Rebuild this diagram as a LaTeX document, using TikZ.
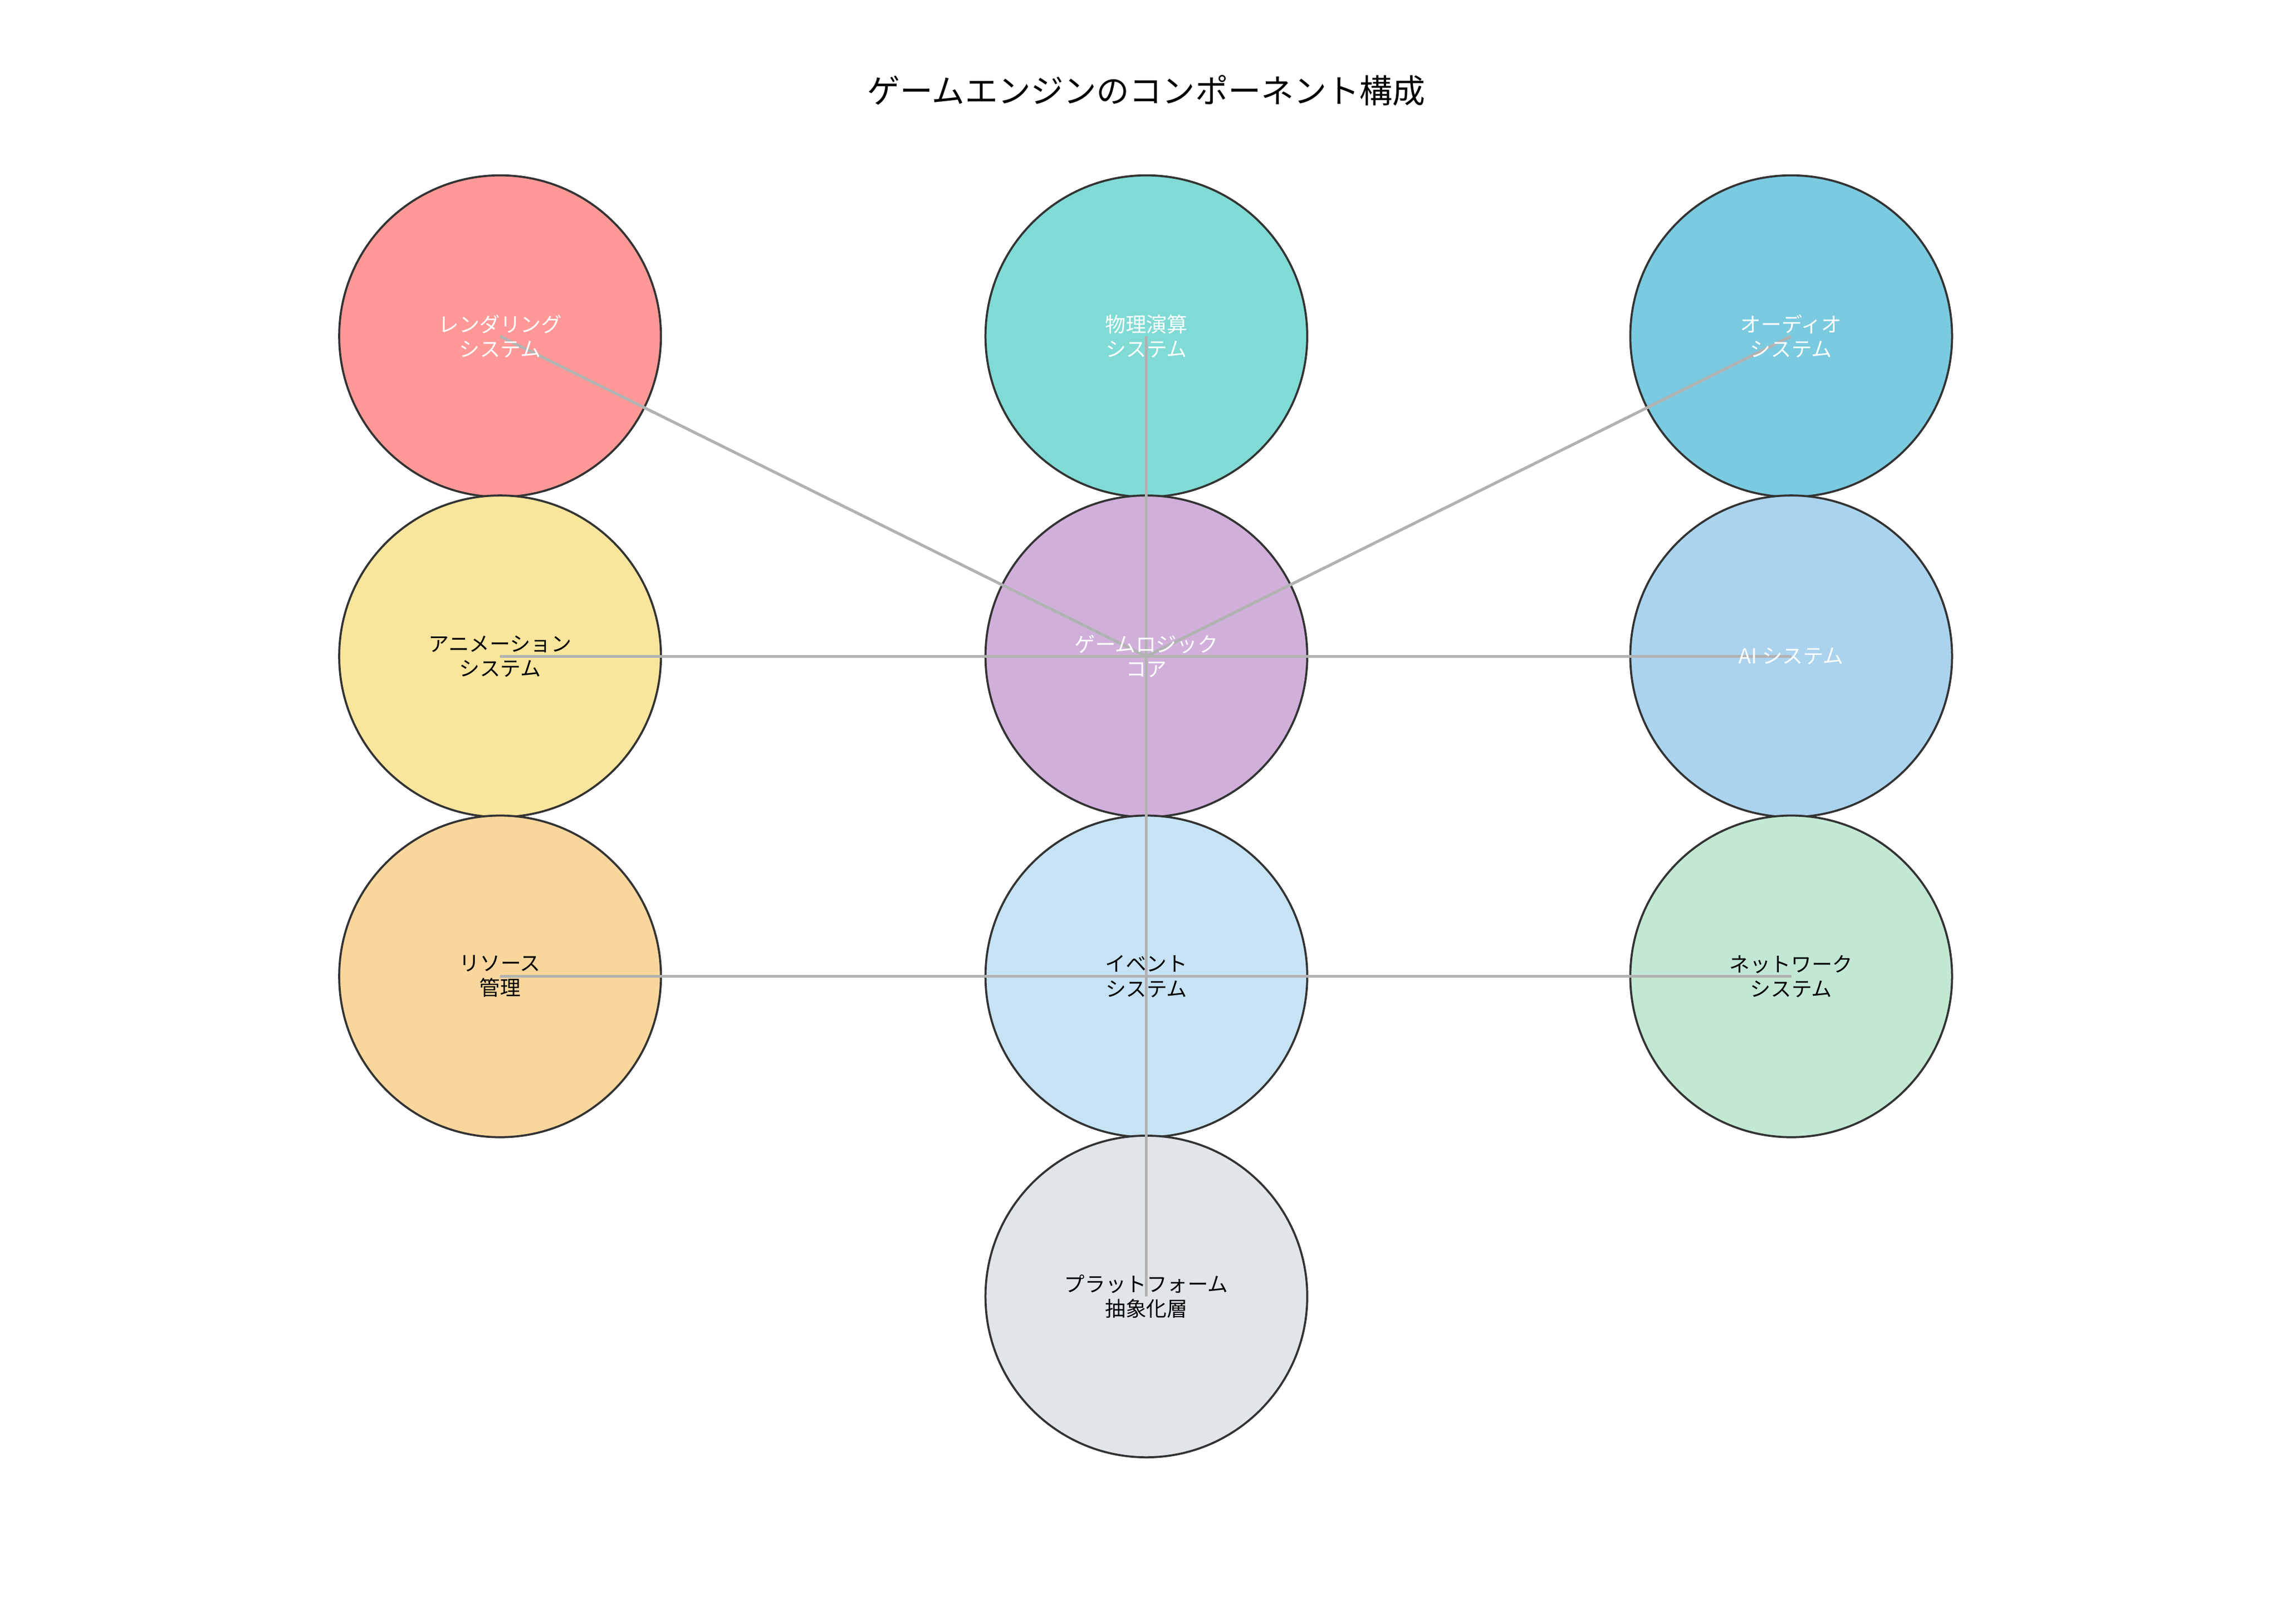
\documentclass[tikz,border=0pt]{standalone}
\usepackage{fontspec}
\setmainfont{Noto Sans CJK JP}
\begin{document}
\begin{tikzpicture}[x=0.025cm,y=-0.025cm,
  comp/.style={circle,draw=black!80,line width=1pt,minimum size=5.5cm,inner sep=0pt},
  lab/.style={align=center,font=\fontsize{10}{12}\selectfont},
  link/.style={draw=black!30,line width=1.4pt}]
\useasboundingbox (0,0) rectangle (1560,1111);
\node[font=\fontsize{16}{18}\selectfont] (title) at (784,62) {ゲームエンジンのコンポーネント構成};
\foreach \n/\x/\y/\c in {ren/342/230/FF9896,phy/784/230/80DBD4,aud/1225/230/7ACAE0,
  ani/342/449/F9E59C,core/784/449/D0B0DB,ai/1225/449/AAD3EE,
  res/342/668/F9D69C,evt/784/668/C6E3F5,net/1225/668/C2E8D3,plt/784/887/E1E5E9}{
  \definecolor{c\n}{HTML}{\c}
  \node[comp,fill=c\n] (\n) at (\x,\y) {};
}
\draw[link] (ren.center) -- (core.center);
\draw[link] (aud.center) -- (core.center);
\draw[link] (phy.center) -- (plt.center);
\draw[link] (ani.center) -- (ai.center);
\draw[link] (res.center) -- (net.center);
\node[lab,text=white] at (ren) {レンダリング\\システム};
\node[lab,text=white] at (phy) {物理演算\\システム};
\node[lab,text=white] at (aud) {オーディオ\\システム};
\node[lab] at (ani) {アニメーション\\システム};
\node[lab,text=white] at (core) {ゲームロジック\\コア};
\node[lab,text=white] at (ai) {AI システム};
\node[lab] at (res) {リソース\\管理};
\node[lab] at (evt) {イベント\\システム};
\node[lab] at (net) {ネットワーク\\システム};
\node[lab] at (plt) {プラットフォーム\\抽象化層};
\end{tikzpicture}
\end{document}
